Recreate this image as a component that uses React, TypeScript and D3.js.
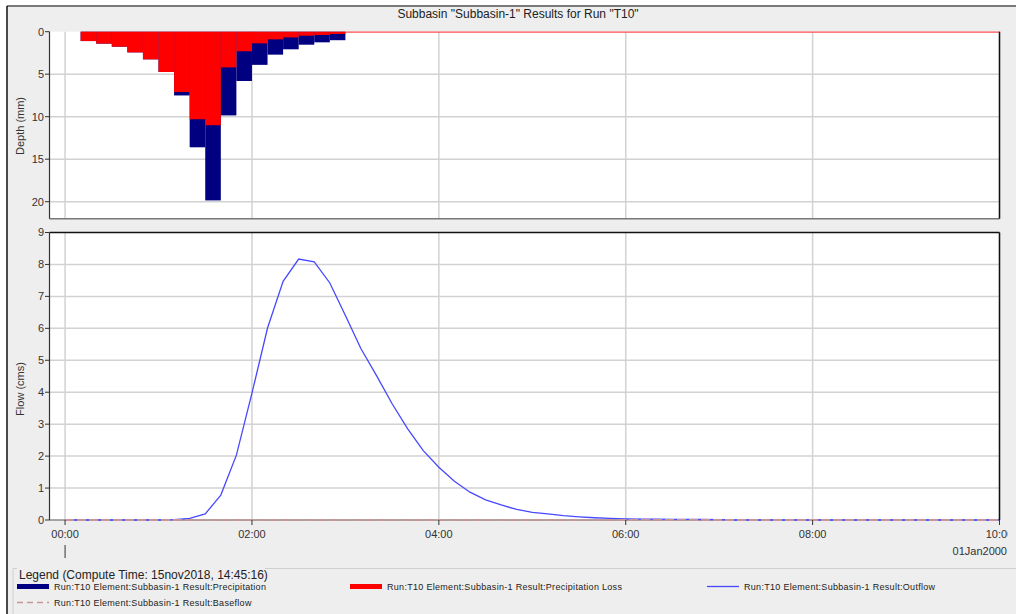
import React from "react";
import * as d3 from "d3";

// rainfall bars (10 min blocks, labelled by end of block)
const barTimes = ["00:20", "00:30", "00:40", "00:50", "01:00", "01:10", "01:20", "01:30", "01:40",
  "01:50", "02:00", "02:10", "02:20", "02:30", "02:40", "02:50", "03:00"];
const precipitation = [1.1, 1.4, 1.76, 2.43, 3.25, 4.74, 7.5, 13.6, 19.85, 9.85, 5.8, 3.9, 2.7, 2.07, 1.53, 1.25, 1.0];
const precipLoss = [1.1, 1.4, 1.76, 2.43, 3.25, 4.74, 7.1, 10.3, 11.0, 4.2, 2.3, 1.37, 0.9, 0.67, 0.47, 0.39, 0.27];

const flowTimes = [
  "00:00", "00:10", "00:20", "00:30", "00:40", "00:50", "01:00", "01:10", "01:20", "01:30", "01:40", "01:50",
  "02:00", "02:10", "02:20", "02:30", "02:40", "02:50", "03:00", "03:10", "03:20", "03:30", "03:40", "03:50",
  "04:00", "04:10", "04:20", "04:30", "04:40", "04:50", "05:00", "05:10", "05:20", "05:30", "05:40", "05:50",
  "06:00", "06:10", "06:20", "06:30", "06:40", "06:50", "07:00", "07:10", "07:20", "07:30", "07:40", "07:50",
  "08:00", "08:10", "08:20", "08:30", "08:40", "08:50", "09:00", "09:10", "09:20", "09:30", "09:40", "09:50",
  "10:00"];
const outflow = [
  0, 0, 0, 0, 0, 0, 0, 0.01, 0.05, 0.19, 0.78, 2.03,
  3.97, 6.01, 7.47, 8.17, 8.08, 7.42, 6.4, 5.36, 4.52, 3.64, 2.85, 2.17,
  1.65, 1.21, 0.87, 0.63, 0.47, 0.33, 0.24, 0.19, 0.135, 0.1, 0.07, 0.05,
  0.035, 0.03, 0.025, 0.02, 0.02, 0.015, 0.01, 0, 0, 0, 0, 0,
  0, 0, 0, 0, 0, 0, 0, 0, 0, 0, 0, 0,
  0];
const baseflow = flowTimes.map(() => 0);

const depthTicks = [0, 5, 10, 15, 20];
const flowTicks = [0, 1, 2, 3, 4, 5, 6, 7, 8, 9];

const legendItems = [
  { label: "Run:T10 Element:Subbasin-1 Result:Precipitation", color: "#000080", kind: "bar" },
  { label: "Run:T10 Element:Subbasin-1 Result:Precipitation Loss", color: "#ff0000", kind: "bar" },
  { label: "Run:T10 Element:Subbasin-1 Result:Outflow", color: "#4848ff", kind: "line" },
  { label: "Run:T10 Element:Subbasin-1 Result:Baseflow", color: "#c89696", kind: "dash" },
];

const toDate = (s: string) => {
  const [h, m] = s.split(":").map(Number);
  return new Date(2000, 0, 1, h, m);
};

const FONT = "'Liberation Sans', Arial, sans-serif";

export default function App() {
  const W = 1016;
  const H = 614;
  const left = 49.5;
  const right = 999.5;

  const x = d3
    .scaleTime()
    .domain([new Date(1999, 11, 31, 23, 50), new Date(2000, 0, 1, 10, 0)])
    .range([left, right]);
  const xTicks = x.ticks(d3.timeHour.every(2)!);
  const fmt = d3.timeFormat("%H:%M");

  const yDepth = d3.scaleLinear().domain([0, 22]).range([31.7, 218.7]);
  const yFlow = d3.scaleLinear().domain([0, 9]).range([520, 232.5]);

  const flowLine = d3
    .line<number>()
    .x((d, i) => x(toDate(flowTimes[i])))
    .y((d) => yFlow(d));

  const gridColor = "#d2d2d2";

  return (
    <svg width={W} height={H} style={{ position: "absolute", left: 0, top: 0 }} fontFamily={FONT}>
      <defs>
        <clipPath id="panel">
          <rect x={0} y={0} width={1008} height={H} />
        </clipPath>
      </defs>
      <rect x={0} y={0} width={W} height={H} fill="#ffffff" />
      <rect x={7} y={6} width={W - 7} height={H - 6} fill="#eeeeee" />
      <line x1={7} x2={W} y1={6} y2={6} stroke="#7a7a7a" strokeWidth={2} />
      <line x1={7} x2={7} y1={6} y2={H} stroke="#111" strokeWidth={1.5} />

      <text x={518} y={18} fontSize={12} textAnchor="middle" fill="#222">
        Subbasin "Subbasin-1" Results for Run "T10"
      </text>

      {/* depth panel */}
      <rect x={left} y={yDepth(0)} width={right - left} height={yDepth(22) - yDepth(0)} fill="#fff" />
      {depthTicks.slice(1).map((t) => (
        <line key={t} x1={left} x2={right} y1={yDepth(t)} y2={yDepth(t)} stroke={gridColor} strokeWidth={1.5} />
      ))}
      {xTicks.map((t) => (
        <line key={+t} x1={x(t)} x2={x(t)} y1={yDepth(0)} y2={yDepth(22)} stroke={gridColor} strokeWidth={1.5} />
      ))}
      {barTimes.map((t, i) => {
        const end = toDate(t);
        const start = d3.timeMinute.offset(end, -10);
        return (
          <rect key={"p" + t} x={x(start)} width={x(end) - x(start)} y={yDepth(0)}
            height={yDepth(precipitation[i]) - yDepth(0)} fill="#000080" />
        );
      })}
      {barTimes.map((t, i) => {
        const end = toDate(t);
        const start = d3.timeMinute.offset(end, -10);
        return (
          <rect key={"l" + t} x={x(start)} width={x(end) - x(start)} y={yDepth(0)}
            height={yDepth(precipLoss[i]) - yDepth(0)} fill="#ff0000" />
        );
      })}
      <line x1={x(toDate("03:00"))} x2={right} y1={yDepth(0) + 0.5} y2={yDepth(0) + 0.5} stroke="#ff5050" strokeWidth={1.2} />
      <line x1={left} x2={right} y1={yDepth(22)} y2={yDepth(22)} stroke="#777" strokeWidth={1.5} />
      <line x1={right} x2={right} y1={yDepth(0)} y2={yDepth(22)} stroke="#111" strokeWidth={1.5} />
      <line x1={left} x2={left} y1={yDepth(0)} y2={yDepth(22)} stroke="#333" strokeWidth={1.2} />
      {depthTicks.map((t) => (
        <g key={t}>
          <line x1={left - 4.5} x2={left} y1={yDepth(t)} y2={yDepth(t)} stroke="#333" />
          <text x={44} y={yDepth(t)} dy="0.35em" fontSize={11} textAnchor="end" fill="#333">{t}</text>
        </g>
      ))}
      <text transform={`translate(24, 126) rotate(-90)`} fontSize={11} textAnchor="middle" fill="#333">Depth (mm)</text>

      {/* flow panel */}
      <rect x={left} y={yFlow(9)} width={right - left} height={yFlow(0) - yFlow(9)} fill="#fff" />
      {flowTicks.slice(1, -1).map((t) => (
        <line key={t} x1={left} x2={right} y1={yFlow(t)} y2={yFlow(t)} stroke={gridColor} strokeWidth={1.5} />
      ))}
      {xTicks.map((t) => (
        <line key={+t} x1={x(t)} x2={x(t)} y1={yFlow(9)} y2={yFlow(0)} stroke={gridColor} strokeWidth={1.5} />
      ))}
      <line x1={left} x2={right} y1={yFlow(0)} y2={yFlow(0)} stroke="#555" strokeWidth={1.2} />
      <path d={flowLine(outflow) ?? ""} fill="none" stroke="#4848ff" strokeWidth={1.3} />
      <path d={flowLine(baseflow) ?? ""} fill="none" stroke="#c89696" strokeWidth={2} strokeDasharray="9 3" />
      <line x1={left} x2={right} y1={yFlow(9)} y2={yFlow(9)} stroke="#111" strokeWidth={1.5} />
      <line x1={right} x2={right} y1={yFlow(9)} y2={yFlow(0)} stroke="#111" strokeWidth={1.5} />
      <line x1={left} x2={left} y1={yFlow(9)} y2={yFlow(0)} stroke="#333" strokeWidth={1.2} />
      {flowTicks.map((t) => (
        <g key={t}>
          <line x1={left - 4.5} x2={left} y1={yFlow(t)} y2={yFlow(t)} stroke="#333" />
          <text x={44} y={yFlow(t)} dy="0.35em" fontSize={11} textAnchor="end" fill="#333">{t}</text>
        </g>
      ))}
      <text transform={`translate(24, 389) rotate(-90)`} fontSize={11} textAnchor="middle" fill="#333">Flow (cms)</text>
      <g clipPath="url(#panel)">
        {xTicks.map((t) => (
          <g key={+t}>
            <line x1={x(t)} x2={x(t)} y1={520} y2={525} stroke="#333" />
            <text x={x(t)} y={534} dy="0.35em" fontSize={11} textAnchor="middle" fill="#333">{fmt(t)}</text>
          </g>
        ))}
      </g>
      <line x1={x(xTicks[0])} x2={x(xTicks[0])} y1={545} y2={558} stroke="#333" />
      <text x={1007} y={551} dy="0.35em" fontSize={11} textAnchor="end" fill="#333">01Jan2000</text>

      {/* legend */}
      <path d={`M13,${H} V568.5 H${W}`} fill="none" stroke="#cfcfcf" />
      <rect x={17} y={563} width={248} height={14} fill="#eeeeee" />
      <text x={19} y={575} dy="0.35em" fontSize={12} fill="#222">Legend (Compute Time: 15nov2018, 14:45:16)</text>
      {legendItems.map((item, i) => {
        const col = i === 3 ? 0 : i;
        const row = i === 3 ? 1 : 0;
        const lx = [17, 350, 707][col];
        const ly = row === 0 ? 586.5 : 602.5;
        return (
          <g key={item.label}>
            <line x1={lx} x2={lx + 32} y1={ly} y2={ly} stroke={item.color}
              strokeWidth={item.kind === "bar" ? 5 : item.kind === "line" ? 1.3 : 1.5}
              strokeDasharray={item.kind === "dash" ? "6 4" : undefined} />
            <text x={lx + 37} y={ly} dy="0.35em" fontSize={9} letterSpacing={0.3} fill="#222">{item.label}</text>
          </g>
        );
      })}
    </svg>
  );
}
